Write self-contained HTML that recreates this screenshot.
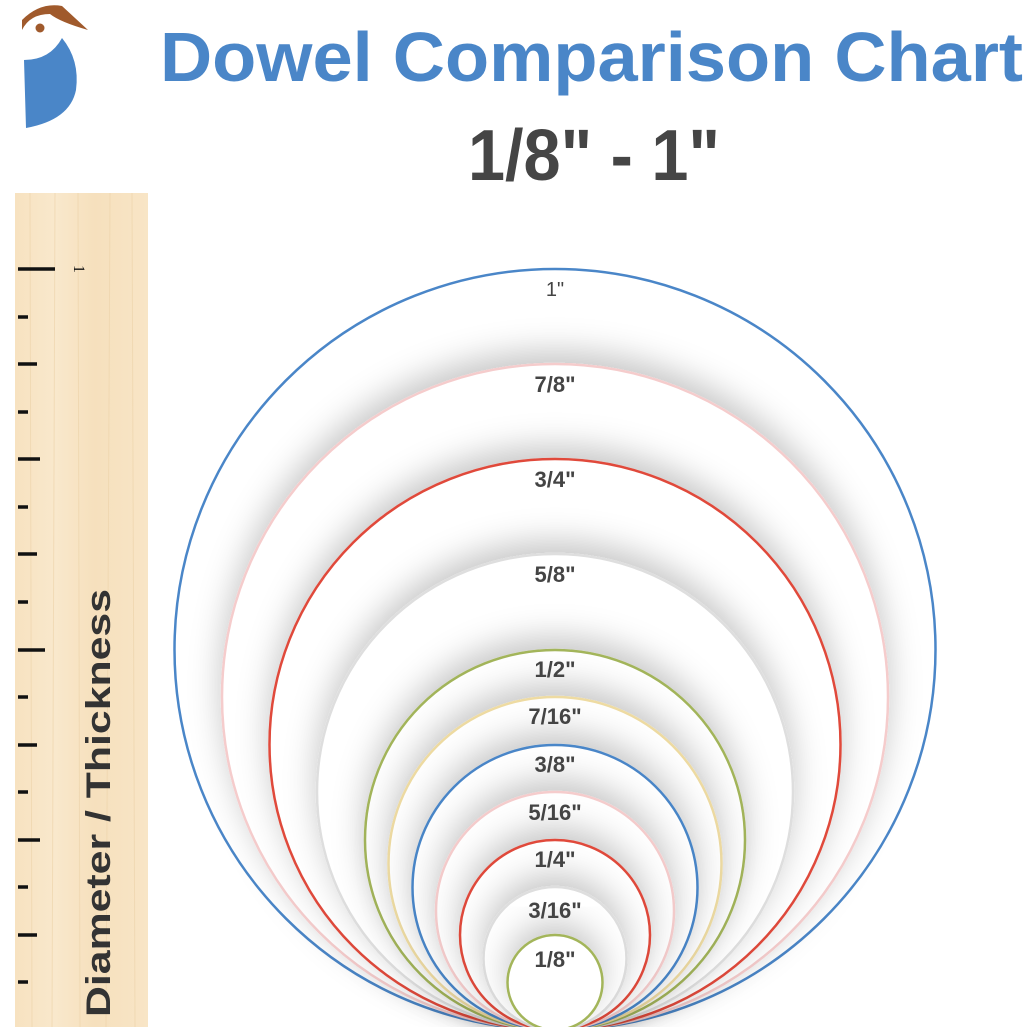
<!DOCTYPE html>
<html><head><meta charset="utf-8"><style>html,body{margin:0;padding:0;background:#fff}svg{display:block}</style></head>
<body>
<svg width="1027" height="1027" viewBox="0 0 1027 1027" xmlns="http://www.w3.org/2000/svg">
<defs>
<linearGradient id="wood" x1="0" x2="1" y1="0" y2="0">
<stop offset="0" stop-color="#f7e2c0"/><stop offset="0.3" stop-color="#f9e8cc"/><stop offset="0.6" stop-color="#f6e0bd"/><stop offset="1" stop-color="#f8e5c6"/>
</linearGradient>
<filter id="sh" x="-30%" y="-30%" width="160%" height="160%"><feDropShadow dx="0" dy="-12" stdDeviation="16" flood-color="#000" flood-opacity="0.22"/></filter>
</defs>
<path d="M22 20 Q40 2 62 6 L88 30 Q60 22 50 14 Q30 14 22 30 Z" fill="#a05a2c"/>
<circle cx="40" cy="28" r="4.5" fill="#a05a2c"/>
<path d="M24 60 Q50 60 62 38 Q80 60 76 90 Q70 120 26 128 Z" fill="#4a86c8"/>
<text x="160" y="81" textLength="863" lengthAdjust="spacingAndGlyphs" font-family="Liberation Sans, sans-serif" font-weight="bold" font-size="70" fill="#4a86c8">Dowel Comparison Chart</text>
<text x="468" y="180" textLength="252" lengthAdjust="spacingAndGlyphs" font-family="Liberation Sans, sans-serif" font-weight="bold" font-size="72" fill="#454545">1/8" - 1"</text>
<rect x="15" y="193" width="133" height="840" fill="url(#wood)"/>
<g stroke="#ecd2a8" stroke-width="1" opacity="0.6">
<line x1="30" y1="193" x2="32" y2="1027"/><line x1="55" y1="193" x2="52" y2="1027"/><line x1="78" y1="193" x2="80" y2="1027"/><line x1="110" y1="193" x2="106" y2="1027"/><line x1="132" y1="193" x2="135" y2="1027"/>
</g>
<g stroke="#111" stroke-width="3.5">
<line x1="18" y1="269" x2="55" y2="269"/>
<line x1="18" y1="317" x2="28" y2="317"/>
<line x1="18" y1="364" x2="37" y2="364"/>
<line x1="18" y1="412" x2="28" y2="412"/>
<line x1="18" y1="459" x2="40" y2="459"/>
<line x1="18" y1="507" x2="28" y2="507"/>
<line x1="18" y1="554" x2="37" y2="554"/>
<line x1="18" y1="602" x2="28" y2="602"/>
<line x1="18" y1="650" x2="45" y2="650"/>
<line x1="18" y1="697" x2="28" y2="697"/>
<line x1="18" y1="745" x2="37" y2="745"/>
<line x1="18" y1="792" x2="28" y2="792"/>
<line x1="18" y1="840" x2="40" y2="840"/>
<line x1="18" y1="887" x2="28" y2="887"/>
<line x1="18" y1="935" x2="37" y2="935"/>
<line x1="18" y1="982" x2="28" y2="982"/>
</g>
<text transform="translate(74,269) rotate(90)" font-family="Liberation Serif, serif" font-size="16" fill="#111" text-anchor="middle">1</text>
<text transform="translate(110,1017) rotate(-90)" textLength="428" lengthAdjust="spacingAndGlyphs" font-family="Liberation Sans, sans-serif" font-weight="bold" font-size="34" fill="#333">Diameter / Thickness</text>
<g stroke-width="2.5" fill="#fff">
<circle cx="555" cy="649.5" r="380.5" stroke="#4a86c8"/>
<circle cx="555" cy="697" r="333" stroke="#f5cccc" filter="url(#sh)"/>
<circle cx="555" cy="744.5" r="285.5" stroke="#e04a3a" filter="url(#sh)"/>
<circle cx="555" cy="792" r="238" stroke="#dedede" filter="url(#sh)"/>
<circle cx="555" cy="840" r="190" stroke="#a3b55a" filter="url(#sh)"/>
<circle cx="555" cy="863.5" r="166.5" stroke="#eedba2" filter="url(#sh)"/>
<circle cx="555" cy="887.5" r="142.5" stroke="#4a86c8" filter="url(#sh)"/>
<circle cx="555" cy="911" r="119" stroke="#f5cccc" filter="url(#sh)"/>
<circle cx="555" cy="935" r="95" stroke="#e04a3a" filter="url(#sh)"/>
<circle cx="555" cy="958.5" r="71.5" stroke="#dedede" filter="url(#sh)"/>
<circle cx="555" cy="982.5" r="47.5" stroke="#a3b55a" filter="url(#sh)"/>
</g>
<g font-family="Liberation Sans, sans-serif" font-weight="bold" font-size="22" fill="#444" text-anchor="middle">
<text x="555" y="296" font-size="20" font-weight="normal">1"</text>
<text x="555" y="392">7/8"</text>
<text x="555" y="487">3/4"</text>
<text x="555" y="582">5/8"</text>
<text x="555" y="677">1/2"</text>
<text x="555" y="724">7/16"</text>
<text x="555" y="772">3/8"</text>
<text x="555" y="820">5/16"</text>
<text x="555" y="867">1/4"</text>
<text x="555" y="918">3/16"</text>
<text x="555" y="967">1/8"</text>
</g>
</svg>
</body></html>
